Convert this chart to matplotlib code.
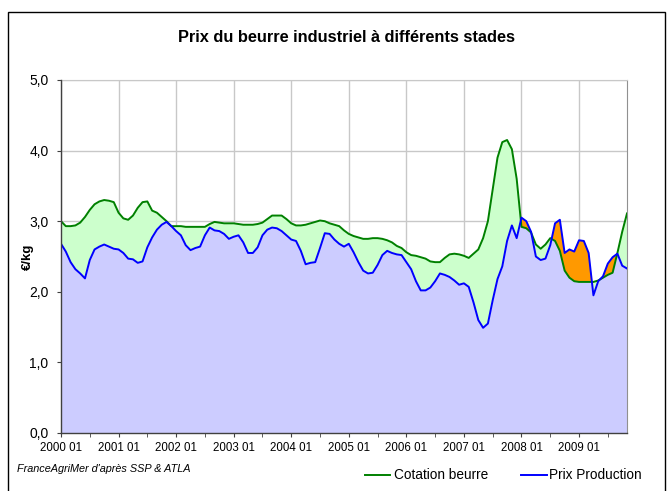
import numpy as np
import matplotlib
matplotlib.use("Agg")
import matplotlib.pyplot as plt
from matplotlib.lines import Line2D
from matplotlib.patches import Rectangle

plt.rcParams['font.family'] = ['Liberation Sans', 'DejaVu Sans']

# Monthly prices, January 2000 to November 2009 (EUR/kg)
cotation_beurre = [
    3.00, 2.93, 2.93, 2.94, 2.98, 3.06, 3.16, 3.24, 3.28, 3.30, 3.29, 3.27,
    3.12, 3.04, 3.02, 3.08, 3.19, 3.27, 3.28, 3.15, 3.12, 3.06, 3.00, 2.93,
    2.93, 2.93, 2.92, 2.92, 2.92, 2.92, 2.92, 2.96, 2.99, 2.98, 2.97, 2.97,
    2.97, 2.96, 2.95, 2.95, 2.95, 2.96, 2.98, 3.03, 3.08, 3.08, 3.08, 3.03,
    2.97, 2.94, 2.94, 2.95, 2.97, 2.99, 3.01, 3.00, 2.97, 2.95, 2.93, 2.87,
    2.82, 2.79, 2.77, 2.75, 2.75, 2.76, 2.76, 2.75, 2.73, 2.70, 2.65, 2.62,
    2.56, 2.52, 2.51, 2.49, 2.47, 2.43, 2.42, 2.42, 2.48, 2.53, 2.54, 2.53,
    2.51, 2.48, 2.54, 2.60, 2.76, 3.00, 3.45, 3.90, 4.12, 4.15, 4.02, 3.60,
    2.92, 2.90, 2.84, 2.67, 2.61, 2.67, 2.76, 2.72, 2.58, 2.30, 2.20, 2.15,
    2.14, 2.14, 2.14, 2.14, 2.16, 2.20, 2.24, 2.27, 2.55, 2.85, 3.11,
]
prix_production = [
    2.68, 2.57, 2.42, 2.32, 2.26, 2.19, 2.45, 2.60, 2.64, 2.67, 2.64, 2.61,
    2.60, 2.55, 2.47, 2.46, 2.41, 2.43, 2.63, 2.77, 2.88, 2.95, 2.99, 2.93,
    2.86, 2.80, 2.66, 2.59, 2.62, 2.64, 2.80, 2.91, 2.87, 2.86, 2.82, 2.75,
    2.78, 2.80, 2.70, 2.55, 2.55, 2.63, 2.80, 2.88, 2.91, 2.90, 2.86, 2.80,
    2.74, 2.72, 2.58, 2.39, 2.41, 2.42, 2.62, 2.83, 2.82, 2.74, 2.68, 2.64,
    2.68, 2.56, 2.42, 2.30, 2.26, 2.27, 2.38, 2.52, 2.58, 2.55, 2.53, 2.52,
    2.42, 2.32, 2.15, 2.02, 2.02, 2.06, 2.15, 2.26, 2.24, 2.21, 2.16, 2.10,
    2.12, 2.07, 1.85, 1.60, 1.49, 1.55, 1.88, 2.18, 2.36, 2.72, 2.94, 2.76,
    3.05, 3.00, 2.85, 2.50, 2.45, 2.47, 2.66, 2.97, 3.02, 2.55, 2.60, 2.57,
    2.73, 2.72, 2.55, 1.95, 2.15, 2.22, 2.40, 2.49, 2.54, 2.37, 2.33,
]
year_labels = ["2000 01", "2001 01", "2002 01", "2003 01", "2004 01",
               "2005 01", "2006 01", "2007 01", "2008 01", "2009 01"]
y_ticks = [0, 1, 2, 3, 4, 5]
y_tick_labels = ["0,0", "1,0", "2,0", "3,0", "4,0", "5,0"]
series_names = ["Cotation beurre", "Prix Production"]

cot = np.array(cotation_beurre)
prod = np.array(prix_production)
months = np.arange(len(cot))

GREEN, BLUE = "#008000", "#0000FF"

W, H = 670, 491
fig = plt.figure(figsize=(W / 100, H / 100), dpi=100)
ax = fig.add_axes([61 / W, 1 - 433 / H, (627 - 61) / W, (433 - 80) / H])

grid_c = "#C8C8C8"
# light blue below the production price, green or orange in the gap
ax.fill_between(months, 0, prod, color="#CCCCFF", lw=0, zorder=2)
ax.fill_between(months, prod, cot, where=cot >= prod, interpolate=True,
                color="#CCFFCC", lw=0, zorder=2)
ax.fill_between(months, prod, cot, where=prod > cot, interpolate=True,
                color="#FF9900", lw=0, zorder=2)
ax.plot(months, cot, color=GREEN, lw=1.4, zorder=3)
ax.plot(months, prod, color=BLUE, lw=1.4, zorder=4)

ax.set_xlim(0, len(cot) - 1)
ax.set_ylim(0, 5)
ax.set_yticks(y_ticks)
ax.set_yticklabels(y_tick_labels, fontsize=10)
ax.set_xticks(np.arange(0, len(cot), 12))
ax.set_xticklabels(year_labels, fontsize=8.3)
ax.set_xticks(np.arange(6, len(cot), 12), minor=True)
ax.tick_params(axis="y", length=3, pad=6, color="#404040")
ax.tick_params(axis="x", which="both", length=3, pad=3.5, color="#404040")
ax.set_axisbelow(True)
ax.grid(True, which="major", color=grid_c, lw=1.0, zorder=0)

for side in ("left", "bottom"):
    ax.spines[side].set_color("#404040")
    ax.spines[side].set_linewidth(1.0)
    ax.spines[side].set_zorder(5)
ax.spines["right"].set_color("#909090")
ax.spines["top"].set_color(grid_c)

ax.set_ylabel("€/kg", fontsize=9.5, fontweight="bold")
ax.yaxis.set_label_coords((34 - 61) / (627 - 61), 0.5)

fig.text(346 / W, 1 - 37 / H, "Prix du beurre industriel à différents stades",
         ha="center", va="center", fontsize=11.8, fontweight="bold")
fig.text(17 / W, 1 - 469 / H, "FranceAgriMer d'après SSP & ATLA",
         ha="left", va="center", fontsize=7.8, style="italic")

# legend entries below the plot
legend_y = 1 - 475 / H
for (x0, x1, xt), color, name in zip([(365, 390, 394), (521, 547, 549)],
                                     [GREEN, BLUE], series_names):
    fig.add_artist(Line2D([x0 / W, x1 / W], [legend_y, legend_y],
                          color=color, lw=1.4, transform=fig.transFigure))
    fig.text(xt / W, legend_y, name, ha="left", va="center", fontsize=9.8)

fig.patches.append(Rectangle((7.5 / W, -0.05), (664.5 - 7.5) / W,
                             1 - 12 / H + 0.05, transform=fig.transFigure,
                             fill=False, ec="black", lw=1.0))

fig.savefig("out.png", dpi=100)
